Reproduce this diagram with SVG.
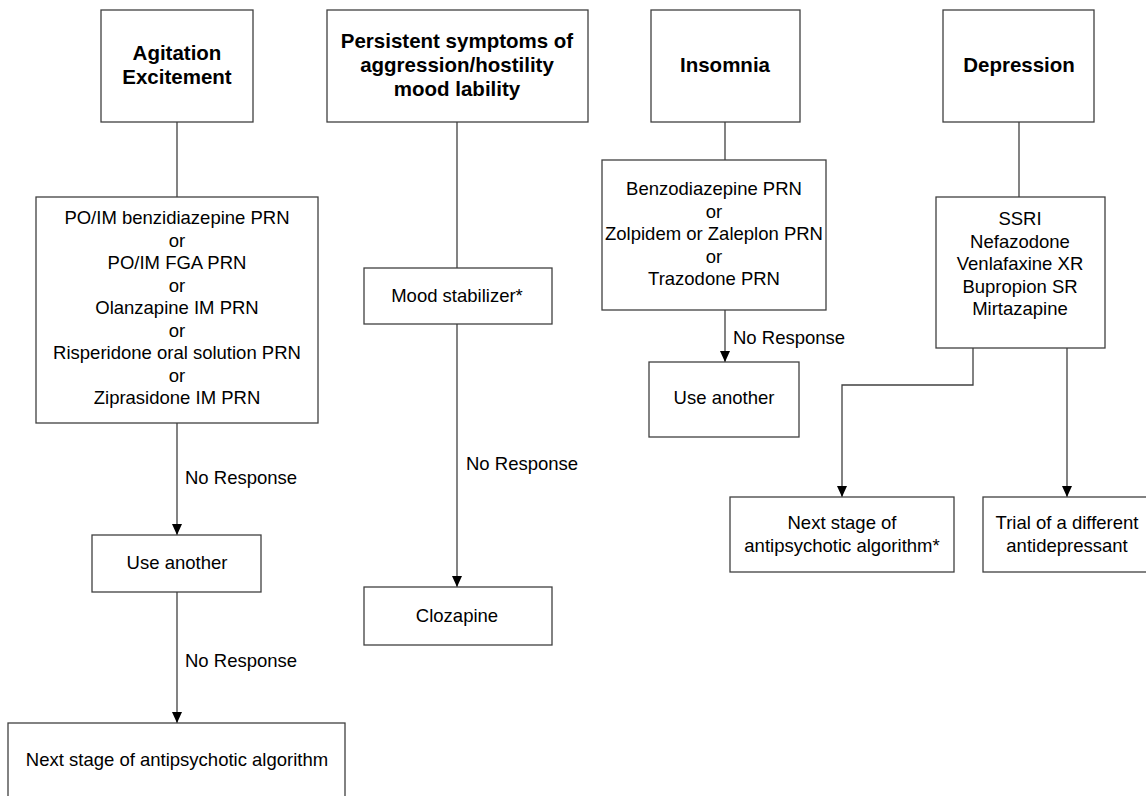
<svg xmlns="http://www.w3.org/2000/svg" width="1146" height="796" viewBox="0 0 1146 796">
<style>
.box{fill:#fff;stroke:#404040;stroke-width:1.3}
.t{font-family:"Liberation Sans",Arial,sans-serif;font-size:18.5px;fill:#000;text-anchor:middle}
.h{font-family:"Liberation Sans",Arial,sans-serif;font-size:20.5px;font-weight:bold;fill:#000;text-anchor:middle}
.lbl{font-family:"Liberation Sans",Arial,sans-serif;font-size:18.5px;fill:#000}
.c{fill:none;stroke:#404040;stroke-width:1.3}
</style>
<defs>
<marker id="arr" viewBox="0 0 11 10" refX="11" refY="5" markerWidth="11" markerHeight="10" markerUnits="userSpaceOnUse" orient="auto">
<path d="M0,0 L11,5 L0,10 Z" fill="#000"/>
</marker>
</defs>
<rect width="1146" height="796" fill="#fff"/>
<g id="connectors">
<line class="c" x1="177" y1="122" x2="177" y2="197"/>
<line class="c" x1="177" y1="423" x2="177" y2="535" marker-end="url(#arr)"/>
<line class="c" x1="177" y1="592" x2="177" y2="723" marker-end="url(#arr)"/>
<line class="c" x1="457" y1="122" x2="457" y2="268"/>
<line class="c" x1="457" y1="324" x2="457" y2="587" marker-end="url(#arr)"/>
<line class="c" x1="725" y1="122" x2="725" y2="160"/>
<line class="c" x1="725" y1="310" x2="725" y2="362" marker-end="url(#arr)"/>
<line class="c" x1="1019" y1="122" x2="1019" y2="197"/>
<polyline class="c" points="973,348 973,385 842,385 842,497" marker-end="url(#arr)"/>
<line class="c" x1="1067" y1="348" x2="1067" y2="497" marker-end="url(#arr)"/>
<text class="lbl" x="185" y="484">No Response</text>
<text class="lbl" x="185" y="667">No Response</text>
<text class="lbl" x="466" y="470">No Response</text>
<text class="lbl" x="733" y="344">No Response</text>
</g>
<g id="agitation"><rect class="box" x="101" y="10" width="152" height="112"/>
<text class="h" x="177" y="60">Agitation</text><text class="h" x="177" y="84">Excitement</text></g>
<g id="persistent"><rect class="box" x="327" y="10" width="261" height="112"/>
<text class="h" x="457" y="48">Persistent symptoms of</text><text class="h" x="457" y="72">aggression/hostility</text><text class="h" x="457" y="96">mood lability</text></g>
<g id="insomnia"><rect class="box" x="651" y="10" width="149" height="112"/>
<text class="h" x="725" y="72">Insomnia</text></g>
<g id="depression"><rect class="box" x="943" y="10" width="151" height="112"/>
<text class="h" x="1019" y="72">Depression</text></g>
<g id="agitation-options"><rect class="box" x="36" y="197" width="282" height="226"/>
<text class="t" x="177" y="224">PO/IM benzidiazepine PRN</text>
<text class="t" x="177" y="246.5">or</text>
<text class="t" x="177" y="269">PO/IM FGA PRN</text>
<text class="t" x="177" y="291.5">or</text>
<text class="t" x="177" y="314">Olanzapine IM PRN</text>
<text class="t" x="177" y="336.5">or</text>
<text class="t" x="177" y="359">Risperidone oral solution PRN</text>
<text class="t" x="177" y="381.5">or</text>
<text class="t" x="177" y="404">Ziprasidone IM PRN</text></g>
<g id="use-another-1"><rect class="box" x="92" y="535" width="169" height="57"/>
<text class="t" x="177" y="569">Use another</text></g>
<g id="next-stage-1"><rect class="box" x="8" y="723" width="337" height="90"/>
<text class="t" x="177" y="766">Next stage of antipsychotic algorithm</text></g>
<g id="mood-stabilizer"><rect class="box" x="364" y="268" width="188" height="56"/>
<text class="t" x="457" y="302">Mood stabilizer*</text></g>
<g id="clozapine"><rect class="box" x="364" y="587" width="188" height="58"/>
<text class="t" x="457" y="622">Clozapine</text></g>
<g id="insomnia-options"><rect class="box" x="602" y="160" width="224" height="150"/>
<text class="t" x="714" y="195">Benzodiazepine PRN</text>
<text class="t" x="714" y="217.5">or</text>
<text class="t" x="714" y="240">Zolpidem or Zaleplon PRN</text>
<text class="t" x="714" y="262.5">or</text>
<text class="t" x="714" y="285">Trazodone PRN</text></g>
<g id="use-another-2"><rect class="box" x="649" y="362" width="150" height="75"/>
<text class="t" x="724" y="404">Use another</text></g>
<g id="antidepressants"><rect class="box" x="936" y="197" width="169" height="151"/>
<text class="t" x="1020" y="225">SSRI</text>
<text class="t" x="1020" y="248">Nefazodone</text>
<text class="t" x="1020" y="270">Venlafaxine XR</text>
<text class="t" x="1020" y="293">Bupropion SR</text>
<text class="t" x="1020" y="315">Mirtazapine</text></g>
<g id="next-stage-2"><rect class="box" x="730" y="497" width="224" height="75"/>
<text class="t" x="842" y="529">Next stage of</text>
<text class="t" x="842" y="552">antipsychotic algorithm*</text></g>
<g id="trial"><rect class="box" x="983" y="497" width="170" height="75"/>
<text class="t" x="1067" y="529">Trial of a different</text>
<text class="t" x="1067" y="552">antidepressant</text></g>
</svg>
